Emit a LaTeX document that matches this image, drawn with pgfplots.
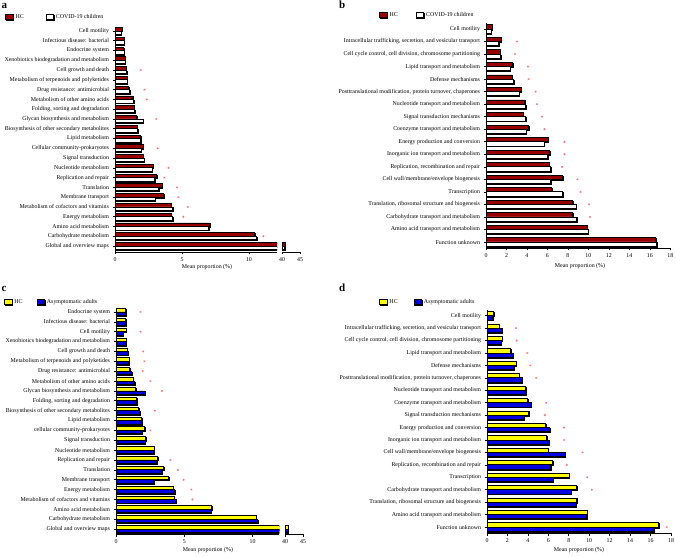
\documentclass[border=0pt]{standalone}
\usepackage{fontspec}
\setmainfont{Liberation Serif}
\usepackage{pgfplots}
\usepackage{pgfplotstable}
\pgfplotsset{compat=1.18}
\usetikzlibrary{shadows}
\definecolor{hcred}{RGB}{150,0,0}
\definecolor{asyblue}{RGB}{0,0,225}
\definecolor{hcyel}{RGB}{255,255,0}
\definecolor{sigpink}{RGB}{240,115,125}
\newcommand\sz{\fontsize{5.9}{7}\selectfont}

% panel a: HC vs COVID-19 children (KEGG)
\pgfplotstableread{
idx hc ch sig
0 0.55 0.45 nan
1 0.67 0.67 nan
2 0.66 0.67 nan
3 0.75 0.77 nan
4 0.82 0.87 1.92
5 0.90 0.92 nan
6 1.02 1.10 2.20
7 1.32 1.39 2.37
8 1.44 1.46 nan
9 1.62 2.11 3.08
10 1.64 1.69 nan
11 1.92 1.92 nan
12 2.11 1.94 3.19
13 2.11 2.19 nan
14 2.86 2.76 4.00
15 3.11 2.96 3.68
16 3.53 3.26 4.63
17 3.63 3.01 4.72
18 4.18 4.30 5.43
19 4.18 4.30 5.10
20 7.07 6.99 nan
21 10.43 10.57 11.07
22 40.90 40.70 nan
}\taba

% panel b: HC vs COVID-19 children (COG)
\pgfplotstableread{
idx hc ch sig
0 0.59 0.52 nan
1 1.47 1.24 3.03
2 1.40 1.43 2.83
3 2.61 2.38 4.10
4 2.57 2.70 4.17
5 3.42 3.26 4.85
6 3.78 3.88 4.98
7 3.62 3.88 5.47
8 4.17 3.91 5.70
9 6.09 5.70 7.65
10 6.22 6.03 7.65
11 6.16 6.29 7.43
12 7.49 6.29 8.93
13 6.42 7.49 9.22
14 8.47 8.79 10.07
15 8.47 8.86 10.16
16 9.87 10.00 nan
17 16.58 16.68 nan
}\tabb

% panel c: HC vs asymptomatic adults (KEGG)
\pgfplotstableread{
idx hc as sig
0 0.69 0.71 1.79
1 0.71 0.71 nan
2 0.74 0.54 1.79
3 0.76 0.74 nan
4 0.81 0.88 1.99
5 0.96 0.91 2.08
6 1.00 1.13 1.96
7 1.27 1.37 2.52
8 1.45 2.13 3.36
9 1.50 1.50 nan
10 1.64 1.72 2.84
11 1.86 1.89 nan
12 2.11 1.86 2.52
13 2.16 2.13 nan
14 2.79 2.75 nan
15 3.04 2.99 3.97
16 3.50 3.33 4.53
17 3.85 2.75 4.95
18 4.19 4.31 5.51
19 4.26 4.41 5.59
20 7.01 6.96 nan
21 10.25 10.37 nan
22 40.85 40.85 nan
}\tabc

% panel d: HC vs asymptomatic adults (COG)
\pgfplotstableread{
idx hc as sig
0 0.65 0.55 nan
1 1.20 1.46 2.83
2 1.46 1.40 2.90
3 2.31 2.57 3.94
4 2.86 2.60 4.23
5 3.16 3.45 4.82
6 3.78 3.81 nan
7 4.00 4.30 5.79
8 4.07 3.65 5.66
9 5.76 6.15 7.52
10 5.83 6.09 7.55
11 5.96 7.62 9.34
12 6.41 6.25 7.81
13 8.04 6.45 9.80
14 8.76 8.24 10.25
15 8.76 8.72 nan
16 9.80 9.73 nan
17 16.80 16.31 17.58
}\tabd

\pgfplotsset{
  hb/.style={
    scale only axis,
    y dir=reverse,
    axis x line*=bottom, axis y line*=left,
    axis line style={line width=0.8pt},
    tick style={line width=0.6pt, black},
    tick align=outside, major tick length=2.5pt,
    xmin=0,
    tick label style={font=\sz},
    /pgf/number format/assume math mode=true,
    label style={font=\sz},
    xlabel={Mean proportion (\%)},
    legend style={draw=none, fill=none, font=\sz, inner sep=0pt,
      legend columns=2, anchor=west, legend cell align=left},
  },
  brk/.style={
    scale only axis, y dir=reverse,
    axis x line*=bottom, axis y line=none,
    axis line style={line width=0.8pt},
    tick style={line width=0.6pt, black},
    tick align=outside, major tick length=2.5pt,
    xmin=40, xmax=45, xtick={40,45},
    tick label style={font=\sz},
    /pgf/number format/assume math mode=true,
  },
  bar/.style={xbar, bar width=#1, draw=black, line width=0.8pt,
    drop shadow={shadow xshift=0.5pt, shadow yshift=-0.9pt, fill=gray!70, opacity=1},
    legend image code/.code={\draw[##1, line width=0.8pt] (0pt,-2.4pt) rectangle (7.5pt,2.4pt);}},
  sigm/.style={only marks, mark=asterisk, mark size=1.1pt, sigpink, line width=0.35pt, forget plot},
}

\begin{document}
\begin{tikzpicture}
\path[use as bounding box] (0pt,0pt) rectangle (676pt,556pt);

% ---------- a ----------
\begin{axis}[hb, at={(115pt,304pt)}, anchor=south west,
  width=162pt, height=225pt, xmax=12.09, ymin=-0.41, ymax=22.61,
  xtick={0,5,10}, ytick={0,...,22},
  yticklabels={{Cell motility},{Infectious disease: bacterial},{Endocrine system},
    {Xenobiotics biodegradation and metabolism},{Cell growth and death},
    {Metabolism of terpenoids and polyketides},{Drug resistance: antimicrobial},
    {Metabolism of other amino acids},{Folding, sorting and degradation},
    {Glycan biosynthesis and metabolism},{Biosynthesis of other secondary metabolites},
    {Lipid metabolism},{Cellular community-prokaryotes},{Signal transduction},
    {Nucleotide metabolism},{Replication and repair},{Translation},{Membrane transport},
    {Metabolism of cofactors and vitamins},{Energy metabolism},{Amino acid metabolism},
    {Carbohydrate metabolism},{Global and overview maps}},
  x label style={at={(axis description cs:0.568,0)}, anchor=center, yshift=-15pt},
  legend style={at={(-0.679,1.044)}, /tikz/every even column/.append style={column sep=20pt}}]
\addplot[bar=3.5pt, bar shift=1.75pt, fill=hcred] table[x=hc, y=idx] {\taba};
\addplot[bar=3.5pt, bar shift=-1.75pt, fill=white] table[x=ch, y=idx] {\taba};
\addplot[sigm] table[x=sig, y=idx] {\taba};
\legend{HC, COVID-19 children}
\end{axis}
\begin{axis}[brk, at={(282pt,304pt)}, anchor=south west,
  width=18pt, height=225pt, ymin=-0.41, ymax=22.61]
\addplot[bar=3.5pt, bar shift=1.75pt, fill=hcred] table[x=hc, y=idx, skip coords between index={0}{22}] {\taba};
\addplot[bar=3.5pt, bar shift=-1.75pt, fill=white] table[x=ch, y=idx, skip coords between index={0}{22}] {\taba};
\end{axis}

% ---------- b ----------
\begin{axis}[hb, at={(486pt,308pt)}, anchor=south west,
  width=184.3pt, height=225pt, xmax=18, ymin=-0.48, ymax=17.48,
  xtick={0,2,...,18}, ytick={0,...,17},
  yticklabels={{Cell motility},{Intracellular trafficking, secretion, and vesicular transport},
    {Cell cycle control, cell division, chromosome partitioning},
    {Lipid transport and metabolism},{Defense mechanisms},
    {Posttranslational modification, protein turnover, chaperones},
    {Nucleotide transport and metabolism},{Signal transduction mechanisms},
    {Coenzyme transport and metabolism},{Energy production and conversion},
    {Inorganic ion transport and metabolism},{Replication, recombination and repair},
    {Cell wall/membrane/envelope biogenesis},{Transcription},
    {Translation, ribosomal structure and biogenesis},
    {Carbohydrate transport and metabolism},{Amino acid transport and metabolism},
    {Function unknown}},
  x label style={at={(axis description cs:0.51,0)}, anchor=center, yshift=-18pt},
  legend style={at={(-0.58,1.036)}, /tikz/every even column/.append style={column sep=16pt}}]
\addplot[bar=4.2pt, bar shift=2.1pt, fill=hcred] table[x=hc, y=idx] {\tabb};
\addplot[bar=4.2pt, bar shift=-2.1pt, fill=white] table[x=ch, y=idx] {\tabb};
\addplot[sigm] table[x=sig, y=idx] {\tabb};
\legend{HC, COVID-19 children}
\end{axis}

% ---------- c ----------
\begin{axis}[hb, at={(116pt,22pt)}, anchor=south west,
  width=163.3pt, height=226pt, xmax=11.95, ymin=-0.4, ymax=22.5,
  xtick={0,5,10}, ytick={0,...,22},
  yticklabels={{Endocrine system},{Infectious disease: bacterial},{Cell motility},
    {Xenobiotics biodegradation and metabolism},{Cell growth and death},
    {Metabolism of terpenoids and polyketides},{Drug resistance: antimicrobial},
    {Metabolism of other amino acids},{Glycan biosynthesis and metabolism},
    {Folding, sorting and degradation},{Biosynthesis of other secondary metabolites},
    {Lipid metabolism},{cellular community-prokaryotes},{Signal transduction},
    {Nucleotide metabolism},{Replication and repair},{Translation},{Membrane transport},
    {Energy metabolism},{Metabolism of cofactors and vitamins},{Amino acid metabolism},
    {Carbohydrate metabolism},{Global and overview maps}},
  x label style={at={(axis description cs:0.563,0)}, anchor=center, yshift=-16pt},
  legend style={at={(-0.686,1.027)}, /tikz/every even column/.append style={column sep=12pt}}]
\addplot[bar=3.5pt, bar shift=1.75pt, fill=hcyel] table[x=hc, y=idx] {\tabc};
\addplot[bar=3.5pt, bar shift=-1.75pt, fill=asyblue] table[x=as, y=idx] {\tabc};
\addplot[sigm] table[x=sig, y=idx] {\tabc};
\legend{HC, Asymptomatic adults}
\end{axis}
\begin{axis}[brk, at={(285pt,22pt)}, anchor=south west,
  width=18pt, height=226pt, ymin=-0.4, ymax=22.5]
\addplot[bar=3.5pt, bar shift=1.75pt, fill=hcyel] table[x=hc, y=idx, skip coords between index={0}{22}] {\tabc};
\addplot[bar=3.5pt, bar shift=-1.75pt, fill=asyblue] table[x=as, y=idx, skip coords between index={0}{22}] {\tabc};
\end{axis}

% ---------- d ----------
\begin{axis}[hb, at={(487pt,23pt)}, anchor=south west,
  width=184pt, height=223pt, xmax=18, ymin=-0.46, ymax=17.48,
  xtick={0,2,...,18}, ytick={0,...,17},
  yticklabels={{Cell motility},{Intracellular trafficking, secretion, and vesicular transport},
    {Cell cycle control, cell division, chromosome partitioning},
    {Lipid transport and metabolism},{Defense mechanisms},
    {Posttranslational modification, protein turnover, chaperones},
    {Nucleotide transport and metabolism},{Coenzyme transport and metabolism},
    {Signal transduction mechanisms},{Energy production and conversion},
    {Inorganic ion transport and metabolism},{Cell wall/membrane/envelope biogenesis},
    {Replication, recombination and repair},{Transcription},
    {Carbohydrate transport and metabolism},
    {Translation, ribosomal structure and biogenesis},{Amino acid transport and metabolism},
    {Function unknown}},
  x label style={at={(axis description cs:0.5,0)}, anchor=center, yshift=-17pt},
  legend style={at={(-0.587,1.036)}, /tikz/every even column/.append style={column sep=14pt}}]
\addplot[bar=4.2pt, bar shift=2.1pt, fill=hcyel] table[x=hc, y=idx] {\tabd};
\addplot[bar=4.2pt, bar shift=-2.1pt, fill=asyblue] table[x=as, y=idx] {\tabd};
\addplot[sigm] table[x=sig, y=idx] {\tabd};
\legend{HC, Asymptomatic adults}
\end{axis}

% panel letters
\node[font=\bfseries\fontsize{11}{12}\selectfont, anchor=base west, inner sep=0pt] at (1.5pt,547pt) {a};
\node[font=\bfseries\fontsize{11}{12}\selectfont, anchor=base west, inner sep=0pt] at (339pt,547pt) {b};
\node[font=\bfseries\fontsize{11}{12}\selectfont, anchor=base west, inner sep=0pt] at (1.5pt,264pt) {c};
\node[font=\bfseries\fontsize{11}{12}\selectfont, anchor=base west, inner sep=0pt] at (339pt,264pt) {d};
\end{tikzpicture}
\end{document}
